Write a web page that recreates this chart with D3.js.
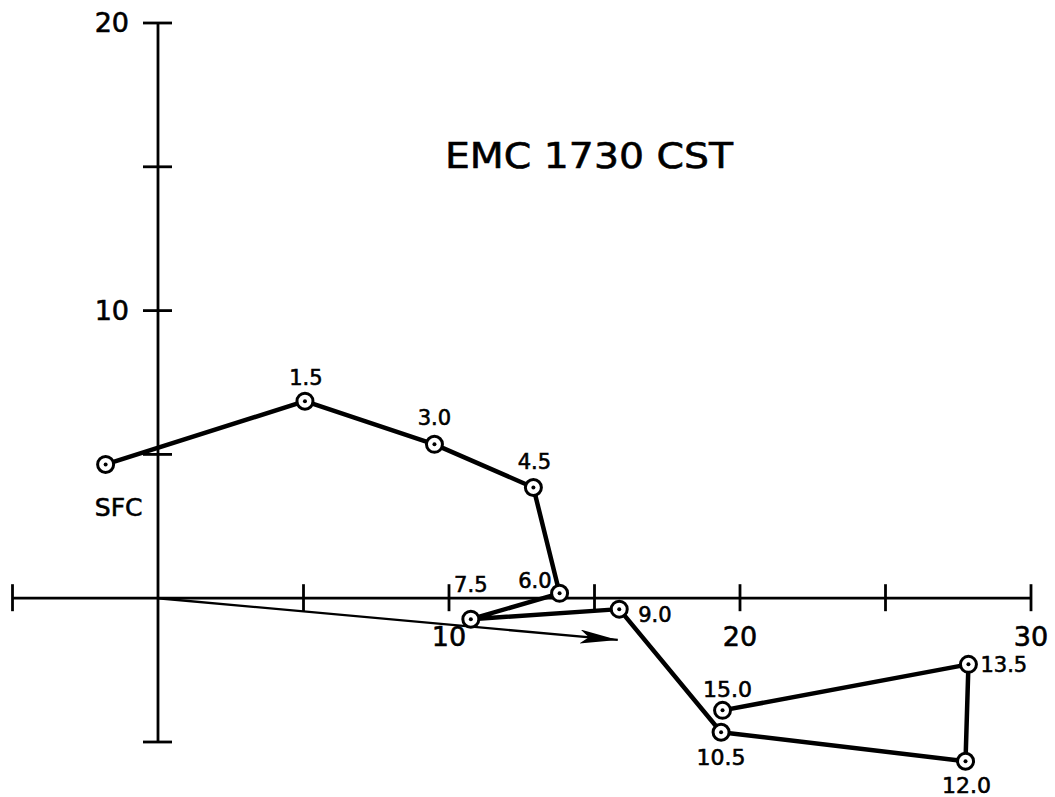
<!DOCTYPE html>
<html>
<head>
<meta charset="utf-8">
<script src="https://cdn.jsdelivr.net/npm/d3@7"></script>
<style>
  body { margin: 0; background: #fff; }
  svg text { font-family: "DejaVu Sans", sans-serif; fill: #000; stroke: #000; stroke-width: 0.6px; }
</style>
</head>
<body>
<div id="chart"></div>
<script>
// hodograph data: height labels (km) and wind components
const heights = ["SFC", "1.5", "3.0", "4.5", "6.0", "7.5", "9.0", "10.5", "12.0", "13.5", "15.0"];
const uValues = [-1.8, 5.05, 9.5, 12.9, 13.8, 10.75, 15.85, 19.35, 27.75, 27.85, 19.4];
const vValues = [4.65, 6.85, 5.35, 3.85, 0.17, -0.73, -0.38, -4.66, -5.67, -2.3, -3.9];
const shearVector = [15.8, -1.45];
const xTicks = [-5, 5, 10, 15, 20, 25, 30];
const yTicks = [-5, 5, 10, 15, 20];
const xTickLabels = [10, 20, 30];
const yTickLabels = [10, 20];
const title = "EMC 1730 CST";

// label offsets (px) relative to each point
const labelPos = {
  "SFC":  { dx: 13, dy: 52, anchor: "middle", size: 25 },
  "1.5":  { dx: 1, dy: -16, anchor: "middle", size: 21 },
  "3.0":  { dx: 0, dy: -19, anchor: "middle", size: 21 },
  "4.5":  { dx: 1, dy: -18, anchor: "middle", size: 21 },
  "6.0":  { dx: -8, dy: -5, anchor: "end", size: 21 },
  "7.5":  { dx: 0, dy: -27, anchor: "middle", size: 21 },
  "9.0":  { dx: 19, dy: 13, anchor: "start", size: 21 },
  "10.5": { dx: 0, dy: 33, anchor: "middle", size: 22 },
  "12.0": { dx: 1, dy: 32, anchor: "middle", size: 22 },
  "13.5": { dx: 12, dy: 8, anchor: "start", size: 21 },
  "15.0": { dx: 5, dy: -13, anchor: "middle", size: 22 }
};

const width = 1055;
const height = 797;

const svg = d3.select("#chart")
  .append("svg")
  .attr("width", width)
  .attr("height", height);

const x = d3.scaleLinear().domain([-5, 30]).range([12.5, 1031]);
const y = d3.scaleLinear().domain([-5, 20]).range([742, 23]);

const data = heights.map((h, i) => ({ h: h, u: uValues[i], v: vValues[i] }));

// axes
const axes = svg.append("g").attr("stroke", "#000").attr("stroke-width", 2.8);
axes.append("line")
  .attr("x1", x(-5)).attr("x2", x(30))
  .attr("y1", y(0)).attr("y2", y(0));
axes.append("line")
  .attr("x1", x(0)).attr("x2", x(0))
  .attr("y1", y(-5)).attr("y2", y(20));

axes.selectAll(".xtick")
  .data(xTicks)
  .join("line")
  .attr("class", "xtick")
  .attr("x1", d => x(d)).attr("x2", d => x(d))
  .attr("y1", y(0) - 14).attr("y2", y(0) + 13);

axes.selectAll(".ytick")
  .data(yTicks)
  .join("line")
  .attr("class", "ytick")
  .attr("x1", x(0) - 15).attr("x2", x(0) + 14)
  .attr("y1", d => y(d)).attr("y2", d => y(d));

svg.selectAll(".xlabel")
  .data(xTickLabels)
  .join("text")
  .attr("class", "xlabel")
  .attr("x", d => x(d))
  .attr("y", y(0) + 48)
  .attr("text-anchor", "middle")
  .style("font-size", "27px")
  .text(d => d);

svg.selectAll(".ylabel")
  .data(yTickLabels)
  .join("text")
  .attr("class", "ylabel")
  .attr("x", x(0) - 29)
  .attr("y", d => y(d) + 9)
  .attr("text-anchor", "end")
  .style("font-size", "27px")
  .text(d => d);

// title
svg.append("text")
  .attr("x", 445)
  .attr("y", 168)
  .attr("textLength", 288)
  .attr("lengthAdjust", "spacingAndGlyphs")
  .style("font-size", "36px")
  .text(title);

// shear arrow
svg.append("defs").append("marker")
  .attr("id", "arrow")
  .attr("viewBox", "0 0 38 14")
  .attr("refX", 38).attr("refY", 7)
  .attr("markerWidth", 38).attr("markerHeight", 14)
  .attr("markerUnits", "userSpaceOnUse")
  .attr("orient", "auto")
  .append("path")
  .attr("d", "M0,0 L38,7 L0,14 L9,7 Z")
  .attr("fill", "#000");

svg.append("line")
  .attr("x1", x(0)).attr("y1", y(0))
  .attr("x2", x(shearVector[0])).attr("y2", y(shearVector[1]))
  .attr("stroke", "#000")
  .attr("stroke-width", 2.4)
  .attr("marker-end", "url(#arrow)");

// hodograph trace
const line = d3.line().x(d => x(d.u)).y(d => y(d.v));
svg.append("path")
  .datum(data)
  .attr("d", line)
  .attr("fill", "none")
  .attr("stroke", "#000")
  .attr("stroke-width", 4.5)
  .attr("stroke-linejoin", "round");

const pts = svg.append("g")
  .selectAll("g")
  .data(data)
  .join("g")
  .attr("transform", d => `translate(${x(d.u)},${y(d.v)})`);

pts.append("circle")
  .attr("r", 8)
  .attr("fill", "#fff")
  .attr("stroke", "#000")
  .attr("stroke-width", 3);

pts.append("circle")
  .attr("r", 2)
  .attr("fill", "#000");

pts.append("text")
  .attr("x", d => labelPos[d.h].dx)
  .attr("y", d => labelPos[d.h].dy)
  .attr("text-anchor", d => labelPos[d.h].anchor)
  .style("font-size", d => labelPos[d.h].size + "px")
  .text(d => d.h);
</script>
</body>
</html>
